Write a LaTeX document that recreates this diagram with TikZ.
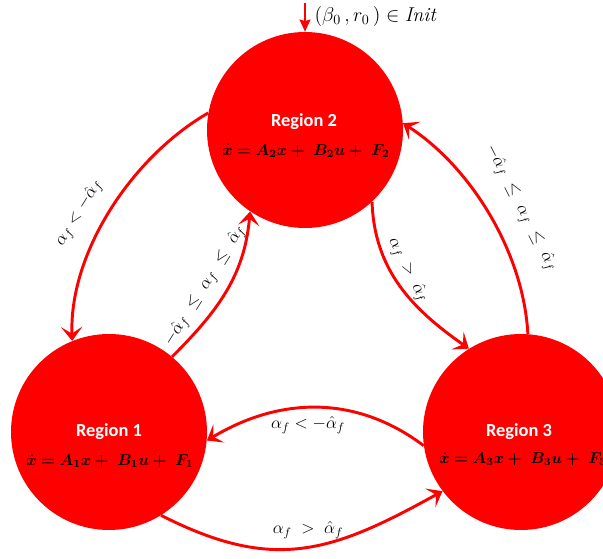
\RequirePackage{fix-cm}
\documentclass[tikz,border=0pt]{standalone}
\usepackage{bm}
\usepackage{mathtools}
\usepackage{fontspec}
\newfontfamily\regionfont{Carlito}
\usepackage{tikz}
\usetikzlibrary{arrows.meta}
\tikzset{
	regionnode/.style={
			circle,
			draw=none,
			fill=red,
			minimum size=147pt,
			inner sep=0pt
		},
	regiontitle/.style={
			text=white,
			inner sep=0pt,
			font=\regionfont\bfseries\fontsize{13.8}{16}\selectfont
		},
	regioneq/.style={
			text=black,
			inner sep=0pt,
			font=\fontsize{11.8}{14}\selectfont
		},
	guardnode/.style={
			inner sep=1pt,
			font=\fontsize{13}{15}\selectfont
		},
	transition/.style={
			draw=red,
			line width=2.2pt,
			-{Stealth[length=10.5pt, width=16pt, inset=5pt]}
		},
	initarrow/.style={
			draw=red,
			line width=2.2pt,
			-{Stealth[length=9pt, width=8pt, inset=1pt]}
		}
}

\begin{document}
\begin{tikzpicture}[x=0.75pt, y=0.75pt]
\useasboundingbox (0,0) rectangle (603,558);

\node[regionnode] (rR2) at (305,428) {};
\node[regionnode] (rR1) at (109,126) {};
\node[regionnode] (rR3) at (521,126) {};

\node[regiontitle] (tR2) at (304,436) {Region 2};
\node[regioneq] (eR2) at (306,407) {$\bm{\dot{x} = A_2x +\ B_2u +\ F_2}$};
\node[regiontitle] (tR1) at (109,126) {Region 1};
\node[regioneq] (eR1) at (110,97) {$\bm{\dot{x} = A_1x +\ B_1u +\ F_1}$};
\node[regiontitle] (tR3) at (519,126) {Region 3};
\node[regioneq] (eR3) at (523,99) {$\bm{\dot{x} = A_3x +\ B_3u +\ F_3}$};

% initial condition
\coordinate (cInit) at (305,555);
\node[guardnode, anchor=west, font=\fontsize{15}{17}\selectfont] (gInit) at (313,541) {$(\beta_0\,, r_0\,) \in \mathit{Init}$};
\draw[initarrow] (cInit) -- (rR2);

% transitions
\draw[transition] (rR2.170) to[out=210, in=92, looseness=0.85] (rR1.112);
\draw[transition] (rR1.50) to[out=45, in=265] (rR2.236);
\draw[transition] (rR2.-47) to[out=-88, in=145] (rR3.122);
\draw[transition] (rR3.86) to[out=93, in=-33, looseness=0.85] (rR2.4);
\draw[transition] (rR3.188) to[out=143, in=31] (rR1.-5);
\draw[transition] (rR1.-58) to[out=-27, in=209, looseness=1.15] (rR3.217);

% guards
\node[guardnode, rotate=58] (g21) at (79,345) {$\alpha_f < -\hat{\alpha}_f$};
\node[guardnode, rotate=58] (g12) at (205,272) {$-\hat{\alpha}_f \ \leq\ \alpha_f \ \leq\ \hat{\alpha}_f$};
\node[guardnode, rotate=-63] (g23) at (408,288) {$\alpha_f \;>\; \hat{\alpha}_f$};
\node[guardnode, rotate=-63] (g32) at (521,350) {$-\hat{\alpha}_f \ \leq\ \alpha_f \ \leq\ \hat{\alpha}_f$};
\node[guardnode] (g31) at (308,133) {$\alpha_f < -\hat{\alpha}_f$};
\node[guardnode] (g13) at (308,28) {$\alpha_f \;>\; \hat{\alpha}_f$};

\end{tikzpicture}
\end{document}
